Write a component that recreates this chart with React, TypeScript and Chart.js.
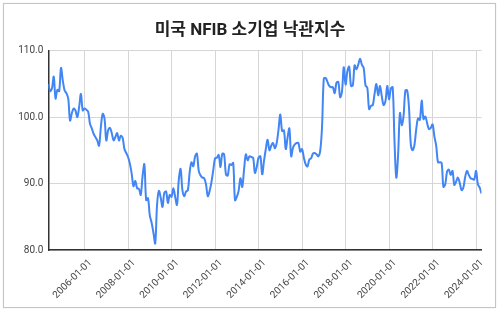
import React, { useEffect, useRef } from 'react';
import { Chart, registerables } from 'chart.js';

Chart.register(...registerables);

const chartTitle = '미국 NFIB 소기업 낙관지수';
// date of the first plotted point (year, month); one point per month
const firstYear = 2004;
const firstMonth = 5;

const values2004 = [105.0, 103.9, 104.3, 106.1, 102.8, 104.1, 103.9, 107.4, 105.5];
const values2005 = [104.0, 103.6, 102.8, 99.5, 100.6, 101.3, 101.0, 100.0, 101.5, 103.5, 101.0, 101.3];
const values2006 = [101.1, 100.8, 99.0, 98.3, 97.5, 97.0, 96.5, 95.7, 98.5, 100.5, 99.8, 96.5];
const values2007 = [98.0, 98.4, 97.6, 96.5, 97.0, 97.6, 96.5, 97.2, 96.9, 95.2, 94.6, 94.0];
const values2008 = [93.0, 91.5, 89.6, 90.4, 89.3, 89.2, 88.3, 91.1, 92.9, 87.5, 87.8, 85.2];
const values2009 = [84.1, 82.6, 81.0, 86.8, 88.9, 87.9, 86.5, 88.6, 88.8, 87.1, 88.3, 88.0];
const values2010 = [89.3, 88.0, 86.8, 90.6, 92.2, 89.0, 88.1, 88.8, 89.0, 91.7, 93.2, 92.6];
const values2011 = [94.1, 94.5, 91.9, 91.2, 90.9, 90.8, 89.9, 88.1, 88.9, 90.2, 92.0, 93.8];
const values2012 = [93.9, 94.3, 92.5, 94.5, 94.4, 91.4, 91.2, 92.9, 92.8, 93.1, 87.5, 88.0];
const values2013 = [88.9, 90.8, 89.5, 92.1, 94.4, 93.5, 94.1, 94.0, 93.9, 91.6, 92.5, 93.9];
const values2014 = [94.1, 91.4, 93.4, 95.2, 96.6, 95.0, 95.7, 96.1, 95.3, 96.1, 98.1, 100.4];
const values2015 = [97.9, 98.0, 95.2, 96.9, 98.3, 94.1, 95.4, 95.9, 96.1, 96.1, 94.8, 95.2];
const values2016 = [93.9, 92.9, 92.6, 93.6, 93.8, 94.5, 94.6, 94.4, 94.1, 94.9, 98.4, 105.8];
const values2017 = [105.9, 105.3, 104.7, 104.5, 104.5, 103.6, 105.2, 105.3, 103.0, 103.8, 107.5, 104.9];
const values2018 = [106.9, 107.6, 104.7, 104.8, 107.8, 107.2, 107.9, 108.8, 107.9, 107.4, 104.8, 104.4];
const values2019 = [101.2, 101.7, 101.8, 103.5, 105.0, 103.3, 104.7, 103.1, 101.8, 102.4, 104.7, 102.7];
const values2020 = [104.3, 104.5, 96.4, 90.9, 94.4, 100.6, 98.8, 100.2, 104.0, 104.0, 101.4, 95.9];
const values2021 = [95.0, 95.8, 98.2, 99.8, 99.6, 102.5, 99.7, 100.1, 99.1, 98.2, 98.4, 98.9];
const values2022 = [97.1, 95.7, 93.2, 93.2, 93.1, 89.5, 89.9, 91.8, 92.1, 91.3, 91.9, 89.8];
const values2023 = [90.3, 90.9, 90.1, 89.0, 89.4, 91.0, 91.9, 91.3, 90.8, 90.7, 90.6, 91.9];
const values2024 = [89.9, 89.4, 88.5];

const xTickLabels = [
  '2006-01-01', '2008-01-01', '2010-01-01', '2012-01-01', '2014-01-01',
  '2016-01-01', '2018-01-01', '2020-01-01', '2022-01-01', '2024-01-01',
];
const yTickValues = [80, 90, 100, 110];

const allValues = [
  ...values2004, ...values2005, ...values2006, ...values2007, ...values2008,
  ...values2009, ...values2010, ...values2011, ...values2012, ...values2013,
  ...values2014, ...values2015, ...values2016, ...values2017, ...values2018,
  ...values2019, ...values2020, ...values2021, ...values2022, ...values2023,
  ...values2024,
];

const monthIndex = (label: string) => {
  const [y, m] = label.split('-').map(Number);
  return (y - firstYear) * 12 + (m - firstMonth);
};
const xTickIndices = xTickLabels.map(monthIndex);

const FONT = "Roboto, 'Noto Sans CJK KR', 'Noto Sans', sans-serif";

export default function App() {
  const canvasRef = useRef<HTMLCanvasElement | null>(null);

  useEffect(() => {
    document.body.style.margin = '0';
    const canvas = canvasRef.current;
    if (!canvas) return;
    const points = allValues.map((v, i) => ({ x: i, y: v }));
    const chart = new Chart(canvas, {
      type: 'line',
      data: {
        datasets: [
          {
            data: points,
            borderColor: '#4285f4',
            borderWidth: 2,
            pointRadius: 0,
            tension: 0.35,
            fill: false,
          },
        ],
      },
      options: {
        animation: false,
        responsive: false,
        layout: { padding: { left: 18.5, right: 18.5, top: 0, bottom: 5 } },
        plugins: {
          legend: { display: false },
          tooltip: { enabled: false },
          title: {
            display: true,
            text: chartTitle,
            color: '#222',
            font: { family: FONT, size: 17, weight: 'bold' },
            padding: { top: 21, bottom: 9.3 },
          },
        },
        scales: {
          x: {
            type: 'linear',
            min: 0,
            max: allValues.length - 1,
            afterBuildTicks: (s: any) => {
              s.ticks = xTickIndices.map((v) => ({ value: v }));
            },
            afterFit: (s: any) => {
              s.height = 58;
            },
            ticks: {
              autoSkip: false,
              minRotation: 45,
              maxRotation: 45,
              padding: 7,
              labelOffset: 6,
              color: '#444',
              font: { family: FONT, size: 10 },
              callback: (v: any) => {
                const k = xTickIndices.indexOf(Number(v));
                return k >= 0 ? xTickLabels[k] : '';
              },
            },
            grid: { color: '#d6d6d6', drawTicks: false },
            border: { color: '#333', width: 1.5 },
          },
          y: {
            min: 80,
            max: 110,
            afterBuildTicks: (s: any) => {
              s.ticks = yTickValues.map((v) => ({ value: v }));
            },
            afterFit: (s: any) => {
              s.width = 29.8;
            },
            ticks: {
              padding: 5,
              color: '#444',
              font: { family: FONT, size: 10 },
              callback: (v: any) => Number(v).toFixed(1),
            },
            grid: { color: '#d6d6d6', drawTicks: false },
            border: { color: '#333', width: 1.5 },
          },
        },
      },
    });
    return () => chart.destroy();
  }, []);

  return (
    <div style={{ position: 'relative', width: 500, height: 313, background: '#fff', overflow: 'hidden' }}>
      <div
        style={{
          position: 'absolute',
          left: 3,
          top: 3,
          width: 491,
          height: 303,
          border: '1px solid #c4c4c4',
          boxShadow: '0 0 1px #ddd',
        }}
      />
      <canvas
        ref={canvasRef}
        width={500}
        height={313}
        style={{ position: 'absolute', left: 0, top: 0, width: 500, height: 313 }}
      />
    </div>
  );
}
